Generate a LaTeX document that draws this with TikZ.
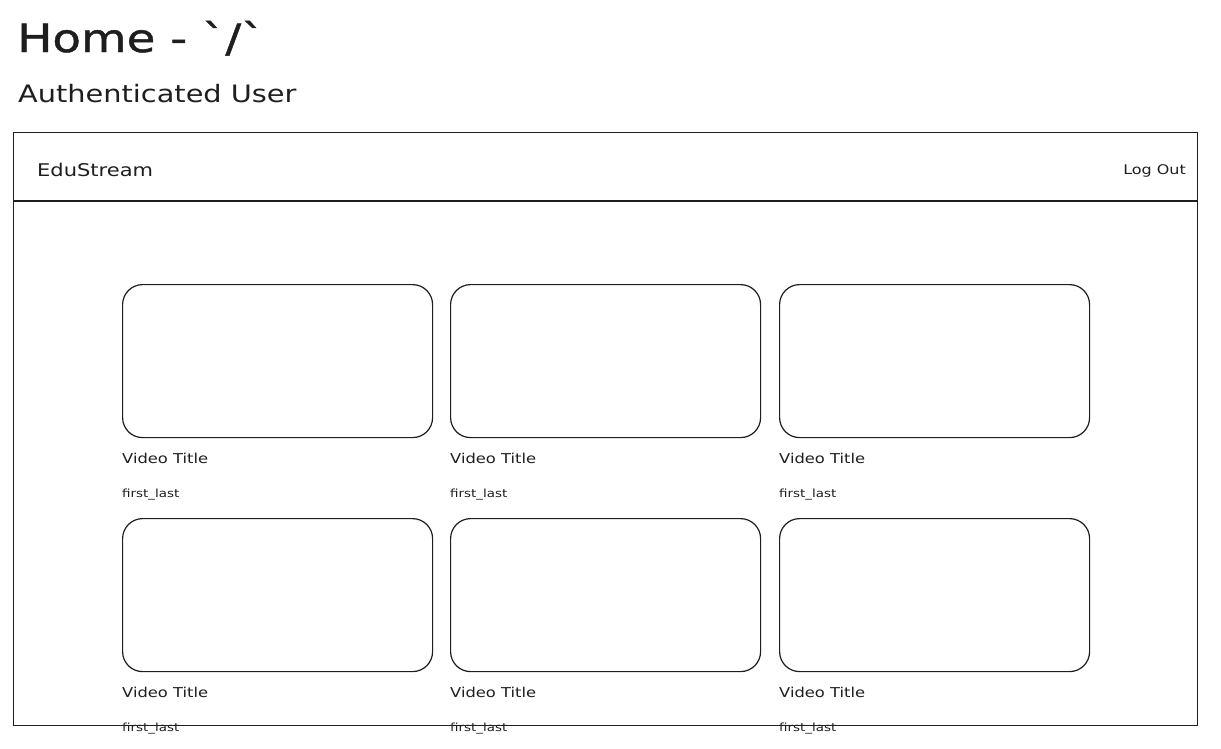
\documentclass[tikz,border=0pt]{standalone}
\usepackage{fontspec}
\setmainfont{DejaVu Sans}
\newfontfamily\sketchfont[FakeStretch=1.2]{DejaVu Sans}
\newfontfamily\sketchtitle[FakeStretch=1.2,FakeBold=1.2]{DejaVu Sans}
\definecolor{ink}{HTML}{1E1E1E}
\tikzset{
  frame/.style={draw=ink, line width=1.2pt},
  card/.style={draw=ink, line width=1.2pt, rounded corners=20pt, minimum width=310pt, minimum height=153pt, inner sep=0pt},
  lbl/.style={inner sep=0pt, text=ink, font=\sketchfont},
}
\begin{document}
\begin{tikzpicture}[x=1pt,y=-1pt]
\useasboundingbox (0,0) rectangle (1221,748);
% titles
\node[lbl, anchor=base west, font=\sketchtitle\fontsize{39}{44}\selectfont] (title) at (17,52) {Home - `/`};
\node[lbl, anchor=base west, font=\sketchfont\fontsize{24}{28}\selectfont] (sub) at (18,102) {Authenticated User};
% outer frame and header
\node[frame, minimum width=1184pt, minimum height=593pt, inner sep=0pt, anchor=north west] (page) at (13,132) {};
\coordinate (hl) at (13,201);
\coordinate (hr) at (1197,201);
\draw[frame] (hl) -- (hr);
\node[lbl, anchor=base west, font=\sketchfont\fontsize{17.5}{20}\selectfont] (brand) at (37,176) {EduStream};
\node[lbl, anchor=base east, font=\sketchfont\fontsize{13.3}{16}\selectfont] (logout) at (1186,174) {Log Out};
% cards
\foreach \c/\x in {1/122,2/450,3/779}{
  \foreach \r/\y in {1/284,2/518}{
    \node[card, anchor=north west] (card\c\r) at (\x,\y) {};
    \node[lbl, anchor=base west, font=\sketchfont\fontsize{13.6}{16}\selectfont] (vt\c\r) at (\x,\y+179) {Video Title};
    \node[lbl, anchor=base west, font=\sketchfont\fontsize{11.2}{13}\selectfont] (au\c\r) at (\x,\y+213) {first\_last};
  }
}
\end{tikzpicture}
\end{document}
